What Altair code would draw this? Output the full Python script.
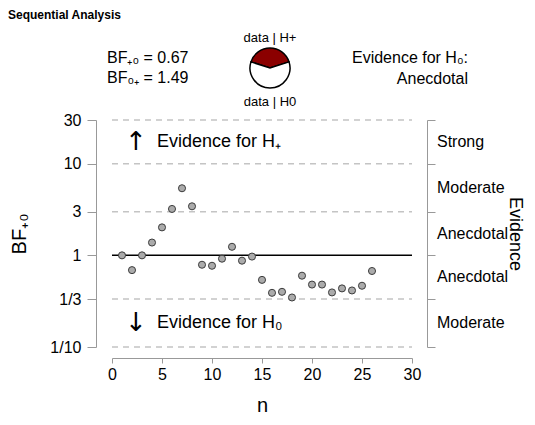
import math
import altair as alt
import pandas as pd

# ---- data ----
n_obs = list(range(1, 27))
bf_values = [1.0, 0.69, 1.0, 1.38, 2.02, 3.21, 5.4, 3.43, 0.79, 0.77, 0.92, 1.24, 0.875,
             0.97, 0.54, 0.39, 0.40, 0.347, 0.60, 0.48, 0.48, 0.394, 0.436, 0.414, 0.466, 0.675]
y_tick_values = [1 / 10, 1 / 3, 1, 3, 10, 30]
y_tick_labels = ["1/10", "1/3", "1", "3", "10", "30"]
x_tick_values = [0, 5, 10, 15, 20, 25, 30]
evidence_labels = ["Moderate", "Anecdotal", "Anecdotal", "Moderate", "Strong"]
bf_plus0 = 0.67
bf_0plus = 1.49
evidence_text = "Anecdotal"

FONT = "Liberation Sans"

points_df = pd.DataFrame({"n": n_obs, "bf": bf_values})
grid_df = pd.DataFrame({"v": y_tick_values,
                        "kind": ["solid" if v == 1 else "dash" for v in y_tick_values]})
mids = [math.sqrt(y_tick_values[i] * y_tick_values[i + 1]) for i in range(len(y_tick_values) - 1)]
cat_df = pd.DataFrame({"mid": mids, "label": evidence_labels})
one_row = pd.DataFrame({"k": [0]})

p = bf_plus0 / (1 + bf_plus0)
pie_df = pd.DataFrame({
    "part": ["data | H+", "data | H0"],
    "start": [-p * math.pi, p * math.pi],
    "end": [p * math.pi, 2 * math.pi - p * math.pi],
    "fill": ["#8b0000", "#ffffff"],
})

# label expression built from the tick lists
expr = "'" + y_tick_labels[-1] + "'"
for i in range(len(y_tick_values) - 2, -1, -1):
    thr = math.sqrt(y_tick_values[i] * y_tick_values[i + 1])
    expr = f"datum.value < {thr} ? '{y_tick_labels[i]}' : ({expr})"

yscale = alt.Scale(type="log", domain=[0.1, 30], nice=False)
xscale = alt.Scale(domain=[0, 30], nice=False, zero=False)

grid = alt.Chart(grid_df).mark_rule(strokeWidth=1.5).encode(
    y=alt.Y("v:Q", scale=yscale, axis=None),
    x=alt.datum(0, scale=xscale),
    x2=alt.datum(30),
    color=alt.Color("kind:N", scale=alt.Scale(domain=["dash", "solid"], range=["#c4c4c4", "#000000"]), legend=None),
    strokeDash=alt.StrokeDash("kind:N", scale=alt.Scale(domain=["dash", "solid"], range=[[6, 5], [1, 0]]), legend=None),
)

points = alt.Chart(points_df).mark_circle(
    color="#ababab", stroke="#3c3c3c", strokeWidth=1, size=50, opacity=1
).encode(
    x=alt.X("n:Q", scale=xscale, axis=alt.Axis(
        values=x_tick_values, offset=11, tickSize=5, grid=False, title="n",
        labelFontSize=16, titleFontSize=20, labelPadding=3, titlePadding=13,
        domainColor="#999999", tickColor="#999999", labelColor="#000000",
        titleColor="#000000", titleFontWeight="normal", labelFlush=False)),
    y=alt.Y("bf:Q", scale=yscale, axis=alt.Axis(
        values=y_tick_values, labelExpr=expr, offset=16, tickSize=9, grid=False,
        title="BF₊₀", labelFontSize=16, titleFontSize=20, labelPadding=6, titlePadding=20,
        domainColor="#999999", tickColor="#999999", labelColor="#000000",
        titleColor="#000000", titleFontWeight="normal", labelFlush=False)),
)

right_axis = alt.Chart(grid_df).mark_rule(opacity=0).encode(
    y=alt.Y("v:Q", scale=yscale, axis=alt.Axis(
        orient="right", values=y_tick_values, labels=False, offset=15, tickSize=8,
        grid=False, title="Evidence", titleFontSize=18, titleAngle=90, titlePadding=70,
        domainColor="#999999", tickColor="#999999", titleColor="#000000",
        titleFontWeight="normal")),
    x=alt.value(0), x2=alt.value(1),
)

cats = alt.Chart(cat_df).mark_text(align="left", baseline="middle", fontSize=16, font=FONT,
                                   color="#000000").encode(
    y=alt.Y("mid:Q", scale=yscale, axis=None),
    x=alt.value(325),
    text="label:N",
)


def txt(s, x, y, size=16, align="left", weight="normal", font=FONT):
    return alt.Chart(one_row).mark_text(
        text=s, align=align, baseline="middle", fontSize=size, fontWeight=weight,
        font=font, color="#000000"
    ).encode(x=alt.value(x), y=alt.value(y))


texts = [
    txt("Sequential Analysis", -104, -105, size=12, weight="bold"),
    txt(f"BF₊₀ = {bf_plus0:.2f}", -5, -62),
    txt(f"BF₀₊ = {bf_0plus:.2f}", -5, -42),
    txt("data | H+", 158, -82, size=13, align="center"),
    txt("data | H0", 158, -18, size=13, align="center"),
    txt("Evidence for H₀:", 356, -62, align="right"),
    txt(evidence_text, 356, -41, align="right"),
    txt("↑", 24, 22, size=26, align="center", font="DejaVu Sans"),
    txt("Evidence for H₊", 45, 22, size=18),
    txt("↓", 24, 203, size=26, align="center", font="DejaVu Sans"),
    txt("Evidence for H₀", 45, 203, size=18),
]

pie = alt.Chart(pie_df).mark_arc(outerRadius=20, stroke="#000000", strokeWidth=1.5).encode(
    theta=alt.Theta("start:Q", scale=None),
    theta2="end:Q",
    fill=alt.Fill("fill:N", scale=None),
    x=alt.value(158),
    y=alt.value(-52),
)

chart = alt.layer(grid, points, right_axis, cats, pie, *texts).resolve_scale(
    y="independent"
).properties(
    width=300, height=227,
    autosize=alt.AutoSizeParams(type="none"),
    padding={"left": 104, "top": 112, "right": 115, "bottom": 70},
).configure(font=FONT).configure_view(stroke=None)

chart.save("out.html", embed_options={"renderer": "svg", "actions": False})
